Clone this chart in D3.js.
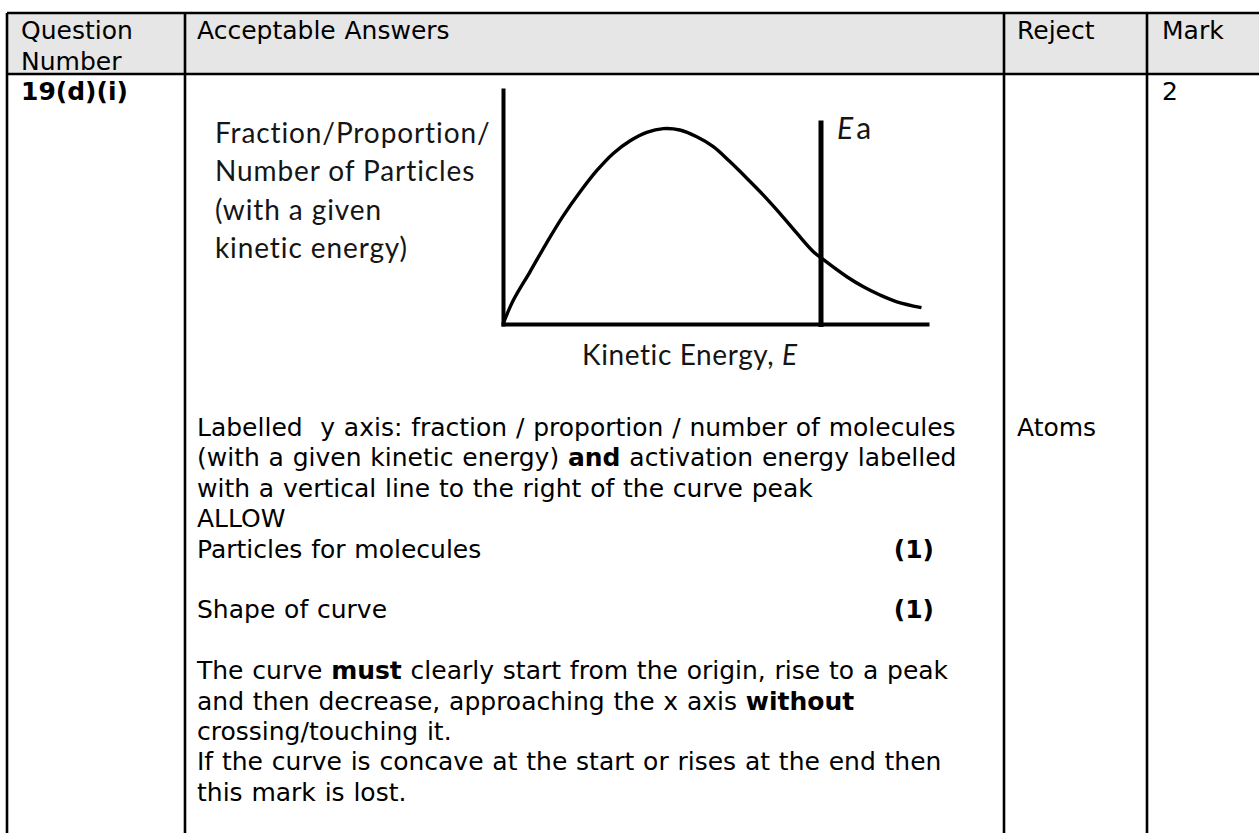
<!DOCTYPE html>
<html>
<head>
<meta charset="utf-8">
<script src="https://cdn.jsdelivr.net/npm/d3@7"></script>
<style>
  body { margin: 0; background: #fff; }
  svg { display: block; }
  text { white-space: pre; }
</style>
</head>
<body>
<div id="chart"></div>
<script>
// curve (energy 0-100 along the axis, fraction 0-100 up the axis)
const energy = [0, 2.4, 6.4, 10.3, 14.2, 18.2, 22.1, 26, 30, 33.9, 37.8, 41.7, 45.7, 49.6, 53.5, 57.5, 61.4, 65.3, 69.3, 73.2, 75.5, 81.1, 85, 88.9, 92.9, 98.7];
const fraction = [0, 10, 22.4, 34.7, 46.2, 56.5, 65.5, 72.9, 78.3, 81.9, 83.5, 82.9, 80, 75.8, 69.4, 62.3, 55.1, 47.3, 38.8, 30.9, 27.6, 20.2, 15.9, 12.4, 9.5, 7];
const activationEnergy = 75;
const eaTop = 87;

const yLabelLines = ["Fraction/Proportion/", "Number of Particles", "(with a given", "kinetic energy)"];
const xLabel = ["Kinetic Energy, ", "E"];

const headers = [["Question", "Number"], ["Acceptable Answers"], ["Reject"], ["Mark"]];
const questionNumber = "19(d)(i)";
const rejectText = "Atoms";
const markText = "2";

// each line: list of [text, bold]; null = empty line
const answerLines = [
  [["Labelled  y axis: fraction / proportion / number of molecules", false]],
  [["(with a given kinetic energy) ", false], ["and", true], [" activation energy labelled", false]],
  [["with a vertical line to the right of the curve peak", false]],
  [["ALLOW", false]],
  [["Particles for molecules", false]],
  null,
  [["Shape of curve", false]],
  null,
  [["The curve ", false], ["must", true], [" clearly start from the origin, rise to a peak", false]],
  [["and then decrease, approaching the x axis ", false], ["without", true]],
  [["crossing/touching it.", false]],
  [["If the curve is concave at the start or rises at the end then", false]],
  [["this mark is lost.", false]]
];
const markLines = [4, 6]; // lines that end with "(1)"

const width = 1259;
const height = 833;

const svg = d3.select("#chart")
  .append("svg")
  .attr("width", width)
  .attr("height", height);

// ---- table ----
const tbl = { left: 7, top: 13, headBottom: 74, cols: [185, 1004, 1147], right: 1265, bottom: 845 };
const tableFont = "'DejaVu Sans', Verdana, sans-serif";

svg.append("rect")
  .attr("x", tbl.left).attr("y", tbl.top)
  .attr("width", tbl.right - tbl.left).attr("height", tbl.headBottom - tbl.top)
  .attr("fill", "#e6e6e6");

const lines = svg.append("g").attr("stroke", "#000").attr("stroke-width", 2.6);
[tbl.top, tbl.headBottom].forEach(y => lines.append("line")
  .attr("x1", tbl.left).attr("x2", tbl.right).attr("y1", y).attr("y2", y));
[tbl.left, ...tbl.cols].forEach(x => lines.append("line")
  .attr("x1", x).attr("x2", x).attr("y1", tbl.top).attr("y2", tbl.bottom));

const colText = [21, 197, 1017, 1162];
const lineH = 30.4;
const txt = svg.append("g")
  .attr("font-family", tableFont)
  .attr("font-size", 25)
  .attr("word-spacing", 0.85)
  .attr("fill", "#000");

headers.forEach((h, i) => {
  h.forEach((s, j) => txt.append("text")
    .attr("x", colText[i]).attr("y", 39.4 + j * lineH).text(s));
});

txt.append("text").attr("x", colText[0]).attr("y", 100)
  .attr("font-weight", "bold").text(questionNumber);
txt.append("text").attr("x", colText[3]).attr("y", 100).text(markText);

const bodyTop = 436;
txt.append("text").attr("x", colText[2]).attr("y", bodyTop).text(rejectText);

answerLines.forEach((ln, i) => {
  if (!ln) return;
  const t = txt.append("text").attr("x", colText[1]).attr("y", bodyTop + i * lineH);
  ln.forEach(([s, b]) => t.append("tspan").attr("font-weight", b ? "bold" : null).text(s));
});
markLines.forEach(i => txt.append("text")
  .attr("x", 934).attr("y", bodyTop + i * lineH)
  .attr("text-anchor", "end").attr("font-weight", "bold").text("(1)"));

// ---- Maxwell-Boltzmann sketch ----
const x = d3.scaleLinear().domain([0, 100]).range([503, 927]);
const y = d3.scaleLinear().domain([0, 100]).range([324, 90]);

svg.append("g")
  .attr("transform", `translate(0,${y(0)})`)
  .call(d3.axisBottom(x).tickValues([]).tickSizeOuter(0))
  .select(".domain").attr("stroke-width", 4).attr("stroke-linecap", "square");

svg.append("g")
  .attr("transform", `translate(${x(0)},0)`)
  .call(d3.axisLeft(y).tickValues([]).tickSizeOuter(0))
  .select(".domain").attr("stroke-width", 4).attr("stroke-linecap", "square");

const pts = energy.map((e, i) => [e, fraction[i]]);
svg.append("path")
  .datum(pts)
  .attr("fill", "none")
  .attr("stroke", "#000")
  .attr("stroke-width", 3.4)
  .attr("d", d3.line().x(d => x(d[0])).y(d => y(d[1])).curve(d3.curveCatmullRom.alpha(0.5)));

svg.append("line")
  .attr("x1", x(activationEnergy)).attr("x2", x(activationEnergy))
  .attr("y1", y(0) + 3).attr("y2", y(eaTop))
  .attr("stroke", "#000").attr("stroke-width", 5);

const lab = svg.append("g")
  .attr("font-family", "Lato, 'Open Sans', sans-serif")
  .attr("font-size", 28)
  .attr("letter-spacing", 0.9)
  .attr("fill", "#151515");

yLabelLines.forEach((s, i) => lab.append("text")
  .attr("x", 215).attr("y", 143 + i * 38.4).text(s));

const xl = lab.append("text").attr("x", 582).attr("y", 365).attr("letter-spacing", 0.6);
xl.append("tspan").text(xLabel[0]);
xl.append("tspan").attr("font-style", "italic").text(xLabel[1]);

const ea = lab.append("text").attr("x", x(activationEnergy) + 16).attr("y", 139)
  .attr("font-size", 30).attr("letter-spacing", 3);
ea.append("tspan").attr("font-style", "italic").text("E");
ea.append("tspan").text("a");
</script>
</body>
</html>
